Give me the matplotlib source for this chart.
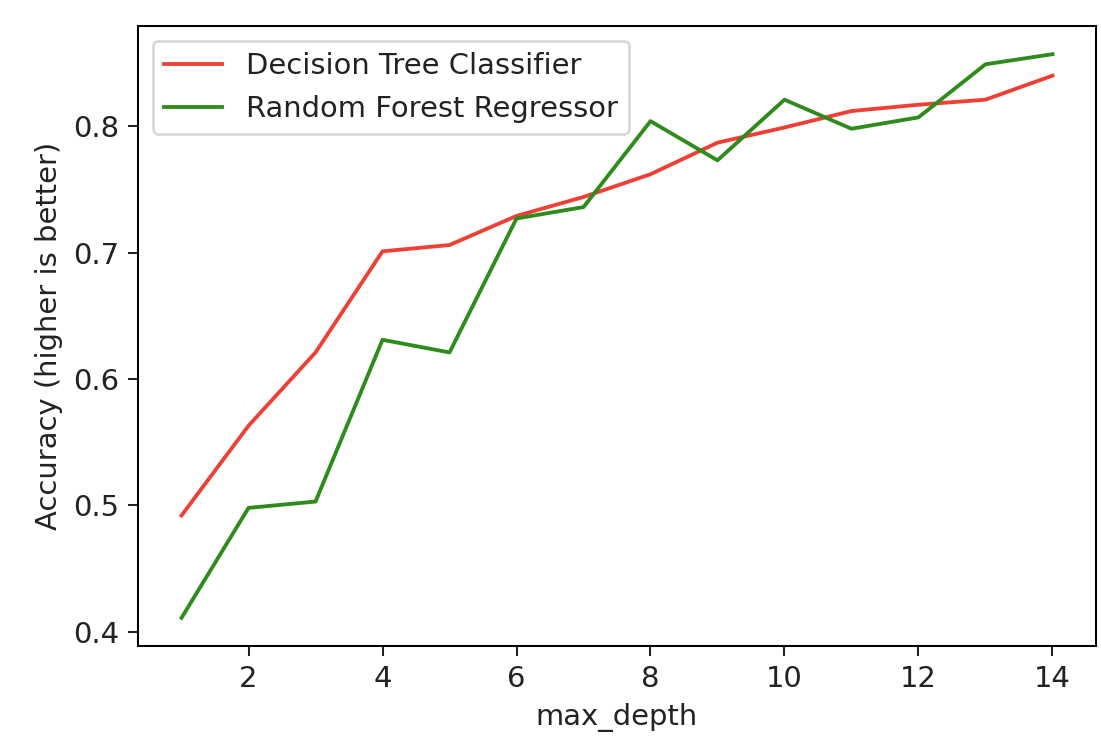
import matplotlib
matplotlib.use("Agg")
import matplotlib.pyplot as plt

max_depth = list(range(1, 15))
decision_tree = [0.492, 0.563, 0.621, 0.701, 0.706, 0.729, 0.744, 0.762, 0.787, 0.799, 0.812, 0.817, 0.821, 0.840]
random_forest = [0.411, 0.498, 0.503, 0.631, 0.621, 0.727, 0.736, 0.804, 0.773, 0.821, 0.798, 0.807, 0.849, 0.857]

x_label = "max_depth"
y_label = "Accuracy (higher is better)"
labels = ["Decision Tree Classifier", "Random Forest Regressor"]

plt.rcParams["font.size"] = 11.4
plt.rcParams["text.color"] = "#222222"
plt.rcParams["axes.labelcolor"] = "#222222"
plt.rcParams["xtick.color"] = "#222222"
plt.rcParams["ytick.color"] = "#222222"
plt.rcParams["xtick.major.size"] = 3.8
plt.rcParams["ytick.major.size"] = 3.8

DPI = 183.5
fig = plt.figure(figsize=(1101 / DPI, 739 / DPI), dpi=DPI)
ax = fig.add_axes([138 / 1101, 1 - 646 / 739, (1096 - 138) / 1101, (646 - 26) / 739])
ax.plot(max_depth, decision_tree, color="#ee4034", label=labels[0])
ax.plot(max_depth, random_forest, color="#2e8b1c", label=labels[1])
ax.set_xlabel(x_label)
ax.set_ylabel(y_label)
ax.legend(loc="upper left")
fig.savefig("out.png", dpi=DPI)
